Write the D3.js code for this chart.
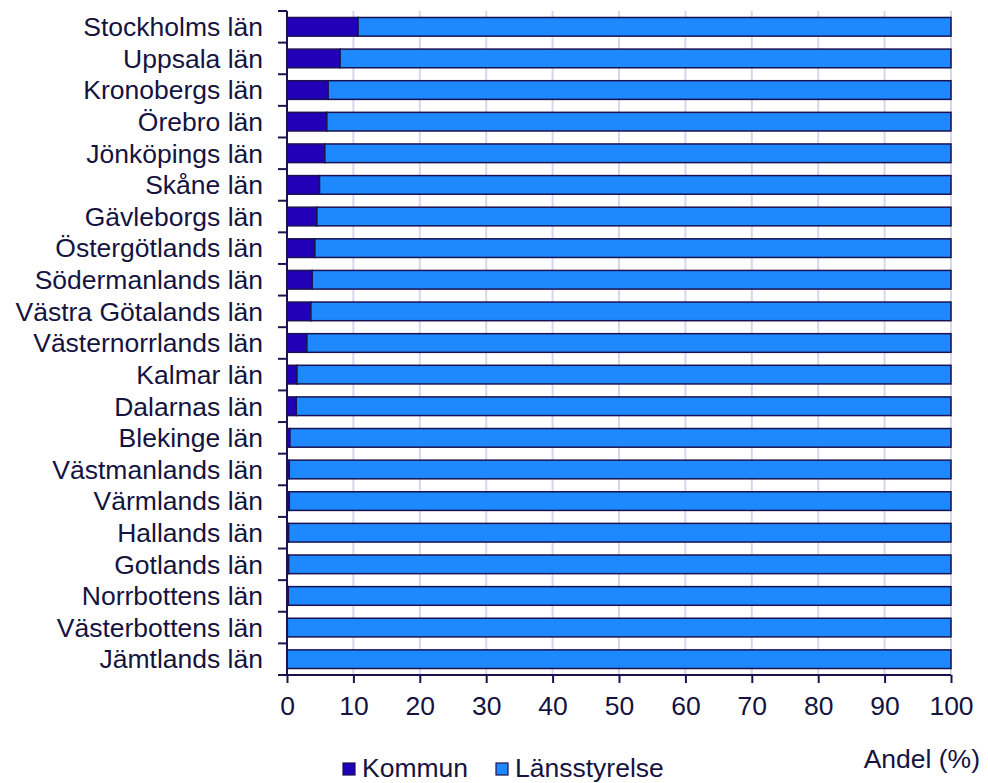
<!DOCTYPE html>
<html><head><meta charset="utf-8">
<script src="https://cdn.jsdelivr.net/npm/d3@7/dist/d3.min.js"></script>
<style>body{margin:0;background:#fff;} text{font-family:"Liberation Sans",Arial,sans-serif;}</style>
</head><body><svg id="c" width="988" height="783"></svg>
<script>
const categories = ["Stockholms län","Uppsala län","Kronobergs län","Örebro län","Jönköpings län","Skåne län","Gävleborgs län","Östergötlands län","Södermanlands län","Västra Götalands län","Västernorrlands län","Kalmar län","Dalarnas län","Blekinge län","Västmanlands län","Värmlands län","Hallands län","Gotlands län","Norrbottens län","Västerbottens län","Jämtlands län"];
const kommun = [10.7,8.0,6.2,6.0,5.7,4.9,4.5,4.2,3.8,3.6,3.0,1.5,1.4,0.45,0.35,0.35,0.25,0.25,0.2,0.05,0.0];
const lansstyrelse = kommun.map(v => 100 - v);
const xTicks = [0,10,20,30,40,50,60,70,80,90,100];
const seriesNames = ["Kommun","Länsstyrelse"];
const colors = ["#2200b8","#1e88ff"];
const ink = "#1a1250";
const txt = "#15133f";
const FS = 26.5;

const svg = d3.select("#c");
const x = d3.scaleLinear().domain([0,100]).range([287,951]);
const y = d3.scaleBand().domain(categories).range([11,675]).paddingInner(0.41).paddingOuter(0.205);

// gridlines
svg.append("g").selectAll("line").data(xTicks.filter(d=>d>0)).join("line")
  .attr("x1",d=>x(d)).attr("x2",d=>x(d)).attr("y1",11).attr("y2",675)
  .attr("stroke","#d6d6ec").attr("stroke-width",2);

// bars
const g = svg.append("g");
categories.forEach((c,i)=>{
  const vals=[kommun[i],lansstyrelse[i]];
  let acc=0;
  vals.forEach((v,j)=>{
    if(v<=0){return;}
    g.append("rect").attr("x",x(acc)).attr("y",y(c)).attr("width",x(acc+v)-x(acc)).attr("height",y.bandwidth())
      .attr("fill",colors[j]).attr("stroke",ink).attr("stroke-width",1.5);
    acc+=v;
  });
});

// y axis
const yAxis = svg.append("g");
yAxis.append("line").attr("x1",287).attr("x2",287).attr("y1",11).attr("y2",675).attr("stroke",ink).attr("stroke-width",2);
const bounds = d3.range(categories.length+1).map(i=>11+i*y.step());
yAxis.selectAll("line.t").data(bounds).join("line").attr("class","t")
  .attr("x1",278).attr("x2",287).attr("y1",d=>d).attr("y2",d=>d).attr("stroke",ink).attr("stroke-width",2);
yAxis.selectAll("text").data(categories).join("text")
  .attr("x",263).attr("y",c=>y(c)+y.bandwidth()/2).attr("dy","0.35em").attr("text-anchor","end")
  .attr("font-size",FS).attr("fill",txt).text(d=>d);

// x axis
const xAxis = svg.append("g").attr("transform","translate(0,675)")
  .call(d3.axisBottom(x).tickValues(xTicks).tickSize(8).tickPadding(9).tickFormat(d3.format("d")));
xAxis.select(".domain").attr("stroke",ink).attr("stroke-width",2).attr("d","M287,0H951");
xAxis.selectAll(".tick line").attr("stroke",ink).attr("stroke-width",2);
xAxis.selectAll(".tick text").attr("font-size",FS).attr("fill",txt).attr("font-family","Liberation Sans, Arial, sans-serif")
  .attr("y",40).attr("dy",0);

svg.append("text").attr("x",980).attr("y",768).attr("text-anchor","end").attr("font-size",FS).attr("fill",txt).text("Andel (%)");

// legend
const leg = svg.append("g");
const legX=[343,496];
seriesNames.forEach((n,i)=>{
  leg.append("rect").attr("x",legX[i]).attr("y",763).attr("width",12).attr("height",12).attr("fill",colors[i]).attr("stroke",ink).attr("stroke-width",1.2);
  leg.append("text").attr("x",legX[i]+19).attr("y",777).attr("font-size",FS).attr("fill",txt).text(n);
});
</script></body></html>
